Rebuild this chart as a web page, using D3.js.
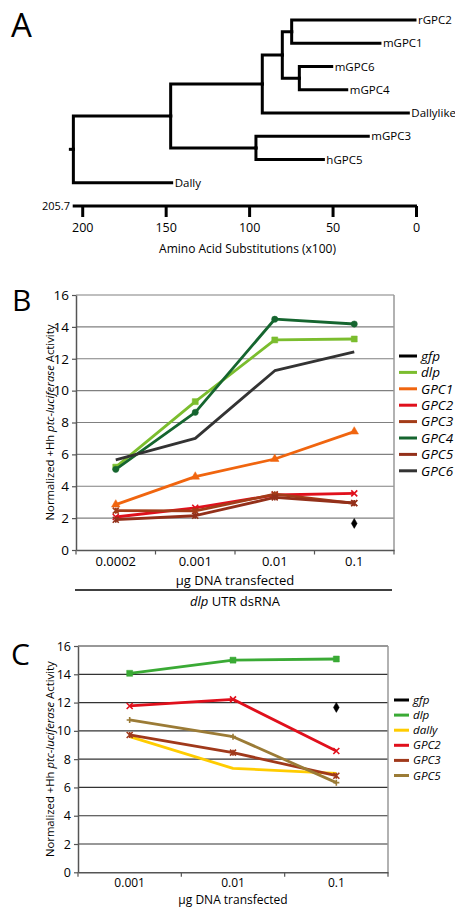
<!DOCTYPE html>
<html>
<head>
<meta charset="utf-8">
<script src="https://cdn.jsdelivr.net/npm/d3@7"></script>
<style>
  body { margin: 0; background: #fff; }
  svg { display: block; font-family: "Open Sans", sans-serif; }
</style>
</head>
<body>
<svg width="455" height="907"></svg>
<script>
// panel A: tree
treeIds     = ["root", "n1", "n3", "n4", "n5", "rGPC2", "mGPC1", "n6", "mGPC6", "mGPC4", "Dallylike", "n2", "mGPC3", "hGPC5", "Dally"];
treeParents = ["", "root", "n1", "n3", "n4", "n5", "n5", "n4", "n6", "n6", "n3", "n1", "n2", "n2", "root"];
treeSubs    = [205.3, 147, 92.1, 80.1, 74.5, 0.6, 21.6, 69.9, 50.5, 41.5, 4.6, 95.9, 28.6, 55.5, 146.4];
ticksA = [200, 150, 100, 50, 0];
maxSubs = 205.7;

// panel B
doseB = ["0.0002", "0.001", "0.01", "0.1"];
namesB = ["gfp", "dlp", "GPC1", "GPC2", "GPC3", "GPC4", "GPC5", "GPC6"];
gfpB  = [null, null, null, 1.67];
dlpB  = [5.2, 9.31, 13.18, 13.24];
gpc1B = [2.85, 4.6, 5.71, 7.43];
gpc2B = [2.07, 2.65, 3.45, 3.55];
gpc3B = [2.47, 2.45, 3.5, 2.93];
gpc4B = [5.06, 8.64, 14.48, 14.18];
gpc5B = [1.9, 2.15, 3.3, 2.95];
gpc6B = [5.65, 7.0, 11.25, 12.43];
colorsB = ["#000000", "#7bbd2e", "#f0650f", "#e0101c", "#a33c18", "#15652f", "#93301a", "#333333"];
markersB = ["diamond", "square", "triangle", "x", "asterisk", "circle", "asterisk", "none"];

// panel C
doseC = ["0.001", "0.01", "0.1"];
namesC = ["gfp", "dlp", "dally", "GPC2", "GPC3", "GPC5"];
gfpC   = [null, null, 11.66];
dlpC   = [14.07, 15.0, 15.08];
dallyC = [9.59, 7.35, 7.0];
gpc2C  = [11.76, 12.23, 8.58];
gpc3C  = [9.71, 8.46, 6.83];
gpc5C  = [10.77, 9.59, 6.34];
colorsC = ["#000000", "#3aaa35", "#ffcc00", "#e0101c", "#a0391b", "#9b7b36"];
markersC = ["diamond", "square", "none", "x", "asterisk", "plus"];

yTicks = [0, 2, 4, 6, 8, 10, 12, 14, 16];

const svg = d3.select("svg");

function marker(type, s) {
  if (type == "square") return d3.symbol(d3.symbolSquare, s * s * 4)();
  if (type == "triangle") return d3.symbol(d3.symbolTriangle, s * s * 3.5)();
  if (type == "circle") return d3.symbol(d3.symbolCircle, s * s * 3.4)();
  if (type == "diamond") return d3.symbol(d3.symbolDiamond, s * s * 3.2)();
  if (type == "x") return `M${-s},${-s}L${s},${s}M${-s},${s}L${s},${-s}`;
  if (type == "plus") return `M${-s},0H${s}M0,${-s}V${s}`;
  if (type == "asterisk") return `M${-s},${-s}L${s},${s}M${-s},${s}L${s},${-s}M0,${-s}V${s}`;
  return null;
}

function drawTree() {
  const rows = treeIds.map((id, i) => ({id: id, parent: treeParents[i] || null, subs: treeSubs[i]}));
  const root = d3.stratify().id(d => d.id).parentId(d => d.parent)(rows);
  d3.cluster().nodeSize([23.25, 1]).separation(() => 1)(root);
  const off = 20 - d3.min(root.leaves(), d => d.x);

  const x = d3.scaleLinear().domain([maxSubs, 0]).range([72.7, 416]);
  const y = v => v + off;

  const g = svg.append("g");

  g.append("g")
      .attr("fill", "none")
      .attr("stroke", "#000")
      .attr("stroke-width", 3)
      .attr("stroke-linecap", "square")
    .selectAll("path")
    .data(root.descendants())
    .join("path")
      .attr("d", d => d.parent
        ? `M${x(d.parent.data.subs)},${y(d.parent.x)}V${y(d.x)}H${x(d.data.subs)}`
        : `M${x(d.data.subs) - 3},${y(d.x)}H${x(d.data.subs)}`);

  g.append("g")
      .attr("font-size", 11.5)
    .selectAll("text")
    .data(root.leaves())
    .join("text")
      .attr("x", d => x(d.data.subs) + 3)
      .attr("y", d => y(d.x))
      .attr("dy", "0.35em")
      .text(d => d.data.id);

  const ax = g.append("g")
      .attr("transform", "translate(0,206)")
      .call(d3.axisBottom(x).tickValues(ticksA).tickSize(11).tickSizeOuter(0).tickPadding(6));
  ax.select(".domain").attr("stroke-width", 3).attr("d", `M${x(maxSubs)},0H${x(0) + 1}`);
  ax.selectAll(".tick line").attr("stroke-width", 3);
  ax.selectAll(".tick text").attr("font-size", 12.5).attr("font-family", "Open Sans");

  g.append("text")
      .attr("x", 70)
      .attr("y", 206)
      .attr("dy", "0.35em")
      .attr("text-anchor", "end")
      .attr("font-size", 11)
      .text(maxSubs);

  g.append("text")
      .attr("x", 247.5)
      .attr("y", 253)
      .attr("text-anchor", "middle")
      .attr("font-size", 12)
      .text("Amino Acid Substitutions (x100)");
}

function drawPanel(p) {
  const x = d3.scaleBand().domain(p.dose).range([p.left, p.right]);
  const y = d3.scaleLinear().domain([0, 16]).range([p.bottom, p.top]);
  const g = svg.append("g");

  g.append("g")
      .attr("stroke", p.grid)
      .attr("stroke-width", 1.2)
    .selectAll("line")
    .data(yTicks.slice(1))
    .join("line")
      .attr("x1", p.left)
      .attr("x2", p.right)
      .attr("y1", d => y(d))
      .attr("y2", d => y(d));

  g.append("line")
      .attr("x1", p.right).attr("x2", p.right)
      .attr("y1", p.top).attr("y2", p.bottom)
      .attr("stroke", "#999")
      .attr("stroke-width", 1.5);

  const ay = g.append("g")
      .attr("transform", `translate(${p.left},0)`)
      .call(d3.axisLeft(y).tickValues(yTicks).tickSize(4).tickSizeOuter(0).tickPadding(3));
  ay.select(".domain").attr("stroke", "#555").attr("stroke-width", 1.5);
  ay.selectAll(".tick line").attr("stroke", "#555").attr("stroke-width", 1.2);
  ay.selectAll(".tick text").attr("font-size", p.tickFont).attr("font-family", "Open Sans");

  const ax = g.append("g")
      .attr("transform", `translate(0,${p.bottom})`)
      .call(d3.axisBottom(x).tickSize(0).tickPadding(p.xPad));
  ax.select(".domain").attr("stroke", "#555").attr("stroke-width", 1.5);
  ax.selectAll(".tick text").attr("font-size", p.xFont).attr("font-family", "Open Sans");

  g.append("g")
      .attr("stroke", "#555")
      .attr("stroke-width", 1.2)
    .selectAll("line")
    .data(d3.range(p.dose.length + 1))
    .join("line")
      .attr("x1", i => p.left + i * x.step())
      .attr("x2", i => p.left + i * x.step())
      .attr("y1", p.bottom)
      .attr("y2", p.bottom + 4.5);

  const yt = g.append("text")
      .attr("transform", `translate(50,${(p.top + p.bottom) / 2}) rotate(-90)`)
      .attr("text-anchor", "middle")
      .attr("dy", "0.35em")
      .attr("font-size", 11.3);
  yt.append("tspan").text("Normalized +Hh ");
  yt.append("tspan").attr("font-style", "italic").text("ptc-luciferase");
  yt.append("tspan").text(" Activity");

  g.append("text")
      .attr("x", (p.left + p.right) / 2)
      .attr("y", p.titleY)
      .attr("text-anchor", "middle")
      .attr("font-size", p.titleFont)
      .text("µg DNA transfected");

  const line = d3.line()
      .defined(d => d != null)
      .x((d, i) => x(p.dose[i]) + x.bandwidth() / 2)
      .y(d => y(d));

  p.series.forEach(function(vals, k) {
    const s = g.append("g");
    s.append("path")
        .attr("fill", "none")
        .attr("stroke", p.colors[k])
        .attr("stroke-width", 2.8)
        .attr("stroke-linejoin", "round")
        .attr("d", line(vals));
    const m = p.markers[k];
    if (m != "none") {
      const filled = ["square", "triangle", "circle", "diamond"].includes(m);
      s.selectAll("path.m")
        .data(vals.map((v, i) => [v, i]).filter(d => d[0] != null))
        .join("path")
          .attr("class", "m")
          .attr("transform", d => `translate(${x(p.dose[d[1]]) + x.bandwidth() / 2},${y(d[0])})`)
          .attr("d", marker(m, 3))
          .attr("fill", filled ? p.colors[k] : "none")
          .attr("stroke", p.colors[k])
          .attr("stroke-width", filled ? 0.5 : 1.6);
    }
  });

  const lg = g.append("g")
      .attr("font-size", p.legendFont)
      .attr("font-style", "italic")
    .selectAll("g")
    .data(p.names)
    .join("g")
      .attr("transform", (d, i) => `translate(${p.legendX},${p.legendY + i * p.legendStep})`);
  lg.append("line")
      .attr("x1", 0).attr("x2", p.legendLine)
      .attr("stroke", (d, i) => p.colors[i])
      .attr("stroke-width", 3);
  lg.append("text")
      .attr("x", p.legendLine + 4)
      .attr("dy", "0.35em")
      .text(d => d);

  g.append("text")
      .attr("x", p.letterX)
      .attr("y", p.letterY)
      .attr("font-size", 30)
      .text(p.letter);
}

drawTree();

svg.append("text")
    .attr("x", 11)
    .attr("y", 37)
    .attr("font-size", 33)
    .text("A");

drawPanel({
  letter: "B", letterX: 12, letterY: 311,
  dose: doseB, names: namesB, colors: colorsB, markers: markersB,
  series: [gfpB, dlpB, gpc1B, gpc2B, gpc3B, gpc4B, gpc5B, gpc6B],
  left: 76, right: 394, top: 295, bottom: 550,
  grid: "#808080", tickFont: 13.5, xFont: 13, xPad: 7, titleY: 585, titleFont: 13,
  legendX: 399, legendY: 356, legendStep: 16.4, legendLine: 18, legendFont: 13.5
});

svg.append("line")
    .attr("x1", 75).attr("x2", 392)
    .attr("y1", 590).attr("y2", 590)
    .attr("stroke", "#000")
    .attr("stroke-width", 1.3);

const sub = svg.append("text")
    .attr("x", 235)
    .attr("y", 606)
    .attr("text-anchor", "middle")
    .attr("font-size", 13);
sub.append("tspan").attr("font-style", "italic").text("dlp");
sub.append("tspan").text(" UTR dsRNA");

drawPanel({
  letter: "C", letterX: 11, letterY: 665,
  dose: doseC, names: namesC, colors: colorsC, markers: markersC,
  series: [gfpC, dlpC, dallyC, gpc2C, gpc3C, gpc5C],
  left: 78, right: 388, top: 646, bottom: 872.3,
  grid: "#333333", tickFont: 12.5, xFont: 12, xPad: 6, titleY: 903.5, titleFont: 12,
  legendX: 394, legendY: 700, legendStep: 15.1, legendLine: 15, legendFont: 11.6
});
</script>
</body>
</html>
